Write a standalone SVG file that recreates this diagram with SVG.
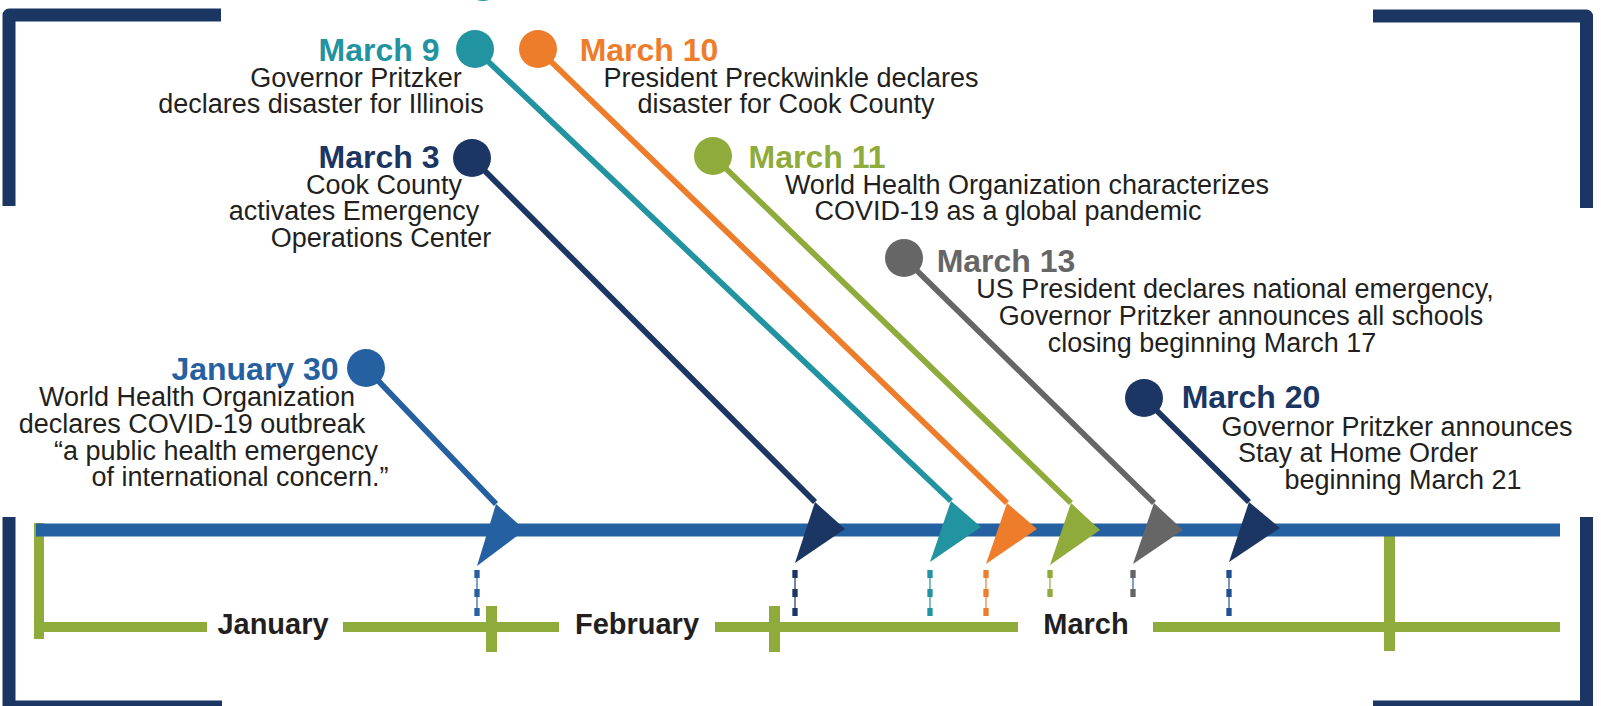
<svg xmlns="http://www.w3.org/2000/svg" width="1601" height="706" viewBox="0 0 1601 706">
<style>
.frame{fill:none;stroke:#1b3663;stroke-width:13;stroke-linejoin:round}
.date{font-family:"Liberation Sans",Arial,sans-serif;font-weight:bold;font-size:32px;text-anchor:middle}
.body{font-family:"Liberation Sans",Arial,sans-serif;font-size:27px;fill:#231f20;text-anchor:middle}
.month{font-family:"Liberation Sans",Arial,sans-serif;font-weight:bold;font-size:29px;fill:#231f20;text-anchor:middle}
.stem{fill:none;stroke-width:5.8}
.dthin{stroke-width:1.2}
.dthick{stroke-width:5.3;stroke-dasharray:8 11}
</style>
<rect width="1601" height="706" fill="#ffffff"/>
<g id="frame">
<path class="frame" d="M9 206V15H221"/>
<path class="frame" d="M1373 16H1586.5V208"/>
<path class="frame" d="M9 517V707H222"/>
<path class="frame" d="M1586.5 517V707H1373"/>
</g>
<circle cx="483" cy="-17" r="18" fill="#2293a0"/>
<g id="months">
<rect x="34" y="523" width="10" height="116" fill="#8fab3b"/>
<rect x="34" y="622" width="173" height="10" fill="#8fab3b"/>
<rect x="343" y="622" width="216" height="10" fill="#8fab3b"/>
<rect x="715" y="622" width="303" height="10" fill="#8fab3b"/>
<rect x="1153" y="622" width="407" height="10" fill="#8fab3b"/>
<rect x="486" y="606" width="11" height="46" fill="#8fab3b"/>
<rect x="769" y="606" width="11" height="46" fill="#8fab3b"/>
<rect x="1384" y="534" width="11" height="117" fill="#8fab3b"/>
<text class="month" x="273" y="634">January</text>
<text class="month" x="637" y="634">February</text>
<text class="month" x="1086" y="634">March</text>
</g>
<g id="timeline">
<rect x="36" y="523.5" width="1524" height="13" fill="#2560a0"/>
</g>
<g id="connectors">
<line class="stem" x1="366" y1="368" x2="496" y2="504" stroke="#2560a0"/>
<line class="stem" x1="472" y1="158" x2="815" y2="502" stroke="#1b3663"/>
<line class="stem" x1="475" y1="49" x2="951" y2="501" stroke="#2293a0"/>
<line class="stem" x1="538" y1="49" x2="1007" y2="503" stroke="#ee7d2b"/>
<line class="stem" x1="713" y1="156" x2="1071" y2="503" stroke="#8fab3b"/>
<line class="stem" x1="904" y1="258" x2="1154" y2="503" stroke="#666666"/>
<line class="stem" x1="1144" y1="398" x2="1249" y2="502" stroke="#1b3663"/>
</g>
<g id="ev-jan30" fill="#2560a0" stroke="#2560a0">
<circle cx="366" cy="368" r="19" stroke="none"/>
<path d="M496 504L525 530L477 566Z" stroke="none"/>
<line class="dthin" x1="477" y1="570" x2="477" y2="616"/>
<line class="dthick" x1="477" y1="570" x2="477" y2="617"/>
<text class="date" x="255" y="380" stroke="none">January 30</text>
<g class="body" stroke="none" fill="#231f20">
<text x="197" y="406">World Health Organization</text>
<text x="192" y="433">declares COVID-19 outbreak</text>
<text x="216" y="460">“a public health emergency</text>
<text x="240" y="486">of international concern.”</text>
</g>
</g>
<g id="ev-mar3" fill="#1b3663" stroke="#1b3663">
<circle cx="472" cy="158" r="19" stroke="none"/>
<path d="M815 502L845 529L795 563Z" stroke="none"/>
<line class="dthin" x1="795" y1="570" x2="795" y2="616"/>
<line class="dthick" x1="795" y1="570" x2="795" y2="617"/>
<text class="date" x="379" y="168" stroke="none">March 3</text>
<g class="body" stroke="none" fill="#231f20">
<text x="384" y="194">Cook County</text>
<text x="354" y="220">activates Emergency</text>
<text x="381" y="247">Operations Center</text>
</g>
</g>
<g id="ev-mar9" fill="#2293a0" stroke="#2293a0">
<circle cx="475" cy="49" r="19" stroke="none"/>
<path d="M951 501L981 527L930 562Z" stroke="none"/>
<line class="dthin" x1="930" y1="570" x2="930" y2="616"/>
<line class="dthick" x1="930" y1="570" x2="930" y2="617"/>
<text class="date" x="379" y="61" stroke="none">March 9</text>
<g class="body" stroke="none" fill="#231f20">
<text x="356" y="87">Governor Pritzker</text>
<text x="321" y="113">declares disaster for Illinois</text>
</g>
</g>
<g id="ev-mar10" fill="#ee7d2b" stroke="#ee7d2b">
<circle cx="538" cy="49" r="19" stroke="none"/>
<path d="M1007 503L1037 529L986 564Z" stroke="none"/>
<line class="dthin" x1="986" y1="570" x2="986" y2="616"/>
<line class="dthick" x1="986" y1="570" x2="986" y2="617"/>
<text class="date" x="649" y="61" stroke="none">March 10</text>
<g class="body" stroke="none" fill="#231f20">
<text x="791" y="87">President Preckwinkle declares</text>
<text x="786" y="113">disaster for Cook County</text>
</g>
</g>
<g id="ev-mar11" fill="#8fab3b" stroke="#8fab3b">
<circle cx="713" cy="156" r="19" stroke="none"/>
<path d="M1071 503L1100 530L1050 565Z" stroke="none"/>
<line class="dthin" x1="1050" y1="570" x2="1050" y2="597"/>
<line class="dthick" x1="1050" y1="570" x2="1050" y2="598"/>
<text class="date" x="817" y="168" stroke="none">March 11</text>
<g class="body" stroke="none" fill="#231f20">
<text x="1027" y="194">World Health Organization characterizes</text>
<text x="1008" y="220">COVID-19 as a global pandemic</text>
</g>
</g>
<g id="ev-mar13" fill="#666666" stroke="#666666">
<circle cx="904" cy="258" r="19" stroke="none"/>
<path d="M1154 503L1183 530L1133 564Z" stroke="none"/>
<line class="dthin" x1="1133" y1="570" x2="1133" y2="597" stroke="#2560a0"/>
<line class="dthick" x1="1133" y1="570" x2="1133" y2="598"/>
<text class="date" x="1006" y="272" stroke="none">March 13</text>
<g class="body" stroke="none" fill="#231f20">
<text x="1235" y="298">US President declares national emergency,</text>
<text x="1241" y="325">Governor Pritzker announces all schools</text>
<text x="1212" y="352">closing beginning March 17</text>
</g>
</g>
<g id="ev-mar20" fill="#1b3663" stroke="#1f4f8f">
<circle cx="1144" cy="398" r="19" stroke="none"/>
<path d="M1249 502L1280 528L1229 562Z" stroke="none"/>
<line class="dthin" x1="1229" y1="570" x2="1229" y2="616"/>
<line class="dthick" x1="1229" y1="570" x2="1229" y2="617"/>
<text class="date" x="1251" y="408" stroke="none">March 20</text>
<g class="body" stroke="none" fill="#231f20">
<text x="1397" y="436">Governor Pritzker announces</text>
<text x="1358" y="462">Stay at Home Order</text>
<text x="1403" y="489">beginning March 21</text>
</g>
</g>
</svg>
